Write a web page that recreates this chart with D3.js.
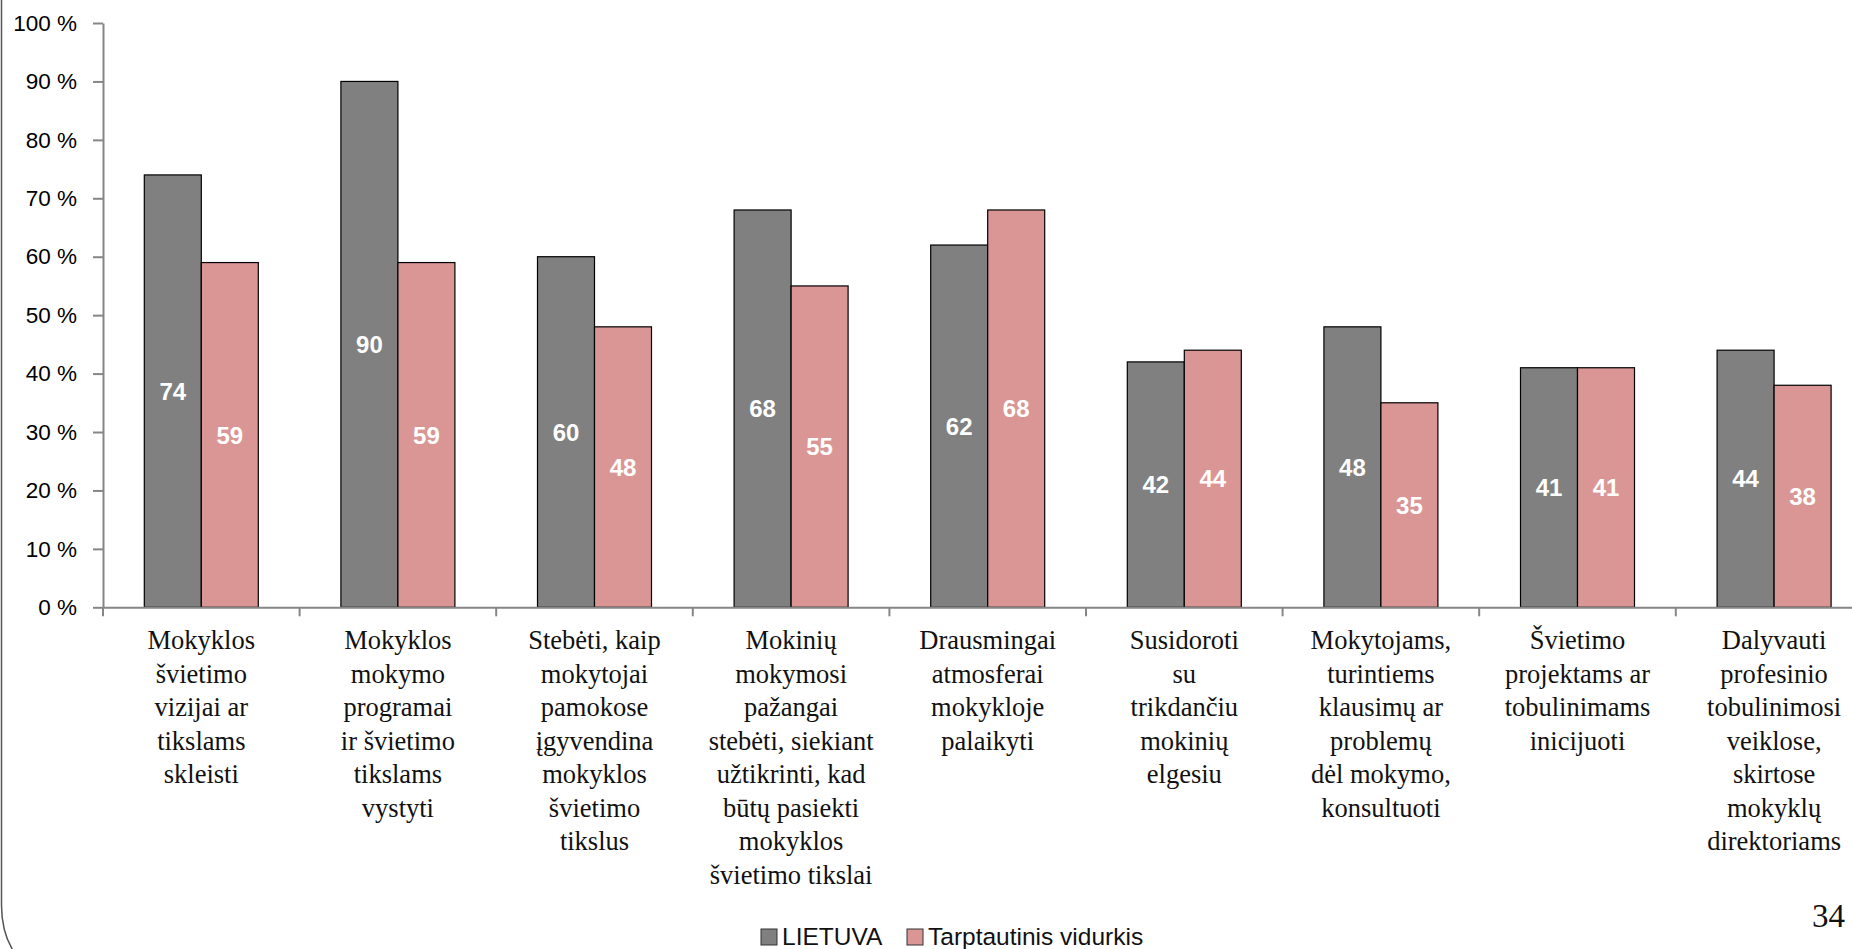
<!DOCTYPE html>
<html><head><meta charset="utf-8">
<script src="https://cdn.jsdelivr.net/npm/d3@7"></script>
<style>
html,body{margin:0;padding:0;background:#fff;overflow:hidden;}
svg{display:block;}
</style></head>
<body>
<svg id="chart" width="1852" height="949"></svg>
<script>
const categories = [
  ["Mokyklos","švietimo","vizijai ar","tikslams","skleisti"],
  ["Mokyklos","mokymo","programai","ir švietimo","tikslams","vystyti"],
  ["Stebėti, kaip","mokytojai","pamokose","įgyvendina","mokyklos","švietimo","tikslus"],
  ["Mokinių","mokymosi","pažangai","stebėti, siekiant","užtikrinti, kad","būtų pasiekti","mokyklos","švietimo tikslai"],
  ["Drausmingai","atmosferai","mokykloje","palaikyti"],
  ["Susidoroti","su","trikdančiu","mokinių","elgesiu"],
  ["Mokytojams,","turintiems","klausimų ar","problemų","dėl mokymo,","konsultuoti"],
  ["Švietimo","projektams ar","tobulinimams","inicijuoti"],
  ["Dalyvauti","profesinio","tobulinimosi","veiklose,","skirtose","mokyklų","direktoriams"]
];
const seriesNames = ["LIETUVA", "Tarptautinis vidurkis"];
const lietuva = [74, 90, 60, 68, 62, 42, 48, 41, 44];
const tarptautinis = [59, 59, 48, 55, 68, 44, 35, 41, 38];
const yTicks = [0, 10, 20, 30, 40, 50, 60, 70, 80, 90, 100];
const pageNumber = "34";

const colors = ["#808080", "#D99694"];
const seriesValues = [lietuva, tarptautinis];

const svg = d3.select("#chart");
const mLeft = 103, mRight = 1872.4, mTop = 23, mBottom = 607.3;

const catIdx = categories.map((c, i) => i);
const x0 = d3.scaleBand().domain(catIdx).range([mLeft, mRight]).padding(0);
const x1 = d3.scaleBand().domain([0, 1]).range([0, x0.bandwidth()]).paddingInner(0).paddingOuter(0.7246);
const y = d3.scaleLinear().domain([0, 100]).range([mBottom, mTop]);

// left page border with rounded corner
svg.append("path")
  .attr("d", "M1.5,-5 L1.5,905 Q1.5,935 16,955")
  .attr("fill", "none").attr("stroke", "#555").attr("stroke-width", 1.5);

// bars
const g = svg.append("g");
seriesValues.forEach((vals, s) => {
  g.selectAll(".bar" + s).data(vals).enter().append("rect")
    .attr("class", "bar" + s)
    .attr("x", (d, i) => x0(i) + x1(s))
    .attr("y", d => y(d))
    .attr("width", x1.bandwidth())
    .attr("height", d => y(0) - y(d))
    .attr("fill", colors[s])
    .attr("stroke", "#000").attr("stroke-width", 1.2);
});

// data labels
seriesValues.forEach((vals, s) => {
  g.selectAll(".lab" + s).data(vals).enter().append("text")
    .attr("class", "lab" + s)
    .attr("x", (d, i) => x0(i) + x1(s) + x1.bandwidth() / 2)
    .attr("y", d => (y(d) + y(0)) / 2)
    .attr("dy", "0.36em")
    .attr("text-anchor", "middle")
    .attr("fill", "#fff")
    .attr("font-family", "'Liberation Sans', Arial, sans-serif")
    .attr("font-weight", "bold")
    .attr("font-size", 24)
    .text(d => d);
});

// y axis
const yAxis = d3.axisLeft(y).tickValues(yTicks).tickSize(10).tickSizeOuter(0).tickPadding(16)
  .tickFormat(d => d + " %");
const ya = svg.append("g").attr("transform", `translate(${mLeft},0)`).call(yAxis);
ya.select(".domain").attr("stroke", "#868686").attr("stroke-width", 2);
ya.selectAll(".tick line").attr("stroke", "#868686").attr("stroke-width", 2);
ya.selectAll(".tick text").attr("fill", "#000")
  .attr("font-family", "'Liberation Sans', Arial, sans-serif").attr("font-size", 22.5);

// x axis line
const xAxis = d3.axisBottom(x0).tickSize(0).tickFormat("").tickSizeOuter(0);
const xa = svg.append("g").attr("transform", `translate(0,${mBottom})`).call(xAxis);
xa.select(".domain").attr("stroke", "#868686").attr("stroke-width", 2);
// category boundary ticks
xa.selectAll(".btick").data(catIdx.concat([categories.length])).enter().append("line")
  .attr("class", "btick")
  .attr("x1", i => i < categories.length ? x0(i) : x0(i - 1) + x0.bandwidth())
  .attr("x2", i => i < categories.length ? x0(i) : x0(i - 1) + x0.bandwidth())
  .attr("y1", 0).attr("y2", 9)
  .attr("stroke", "#868686").attr("stroke-width", 2);

// category labels
const labG = svg.append("g");
categories.forEach((lines, i) => {
  const t = labG.append("text")
    .attr("text-anchor", "middle")
    .attr("font-family", "'Liberation Serif', 'Times New Roman', serif")
    .attr("font-size", 26.5)
    .attr("fill", "#111");
  lines.forEach((ln, k) => {
    t.append("tspan")
      .attr("x", x0(i) + x0.bandwidth() / 2)
      .attr("y", 649 + k * 33.5)
      .text(ln);
  });
});

// legend
const leg = svg.append("g");
const legItems = [{x: 761, name: seriesNames[0], c: colors[0]}, {x: 907, name: seriesNames[1], c: colors[1]}];
legItems.forEach(it => {
  leg.append("rect").attr("x", it.x).attr("y", 929).attr("width", 16).attr("height", 16)
    .attr("fill", it.c).attr("stroke", "#333").attr("stroke-width", 1);
  leg.append("text").attr("x", it.x + 21).attr("y", 945)
    .attr("font-family", "'Liberation Sans', Arial, sans-serif").attr("font-size", 24.5)
    .attr("fill", "#111").text(it.name);
});

// page number
svg.append("text").attr("x", 1845).attr("y", 927).attr("text-anchor", "end")
  .attr("font-family", "'Liberation Serif', 'Times New Roman', serif").attr("font-size", 33)
  .attr("fill", "#111").text(pageNumber);
</script>
</body></html>
